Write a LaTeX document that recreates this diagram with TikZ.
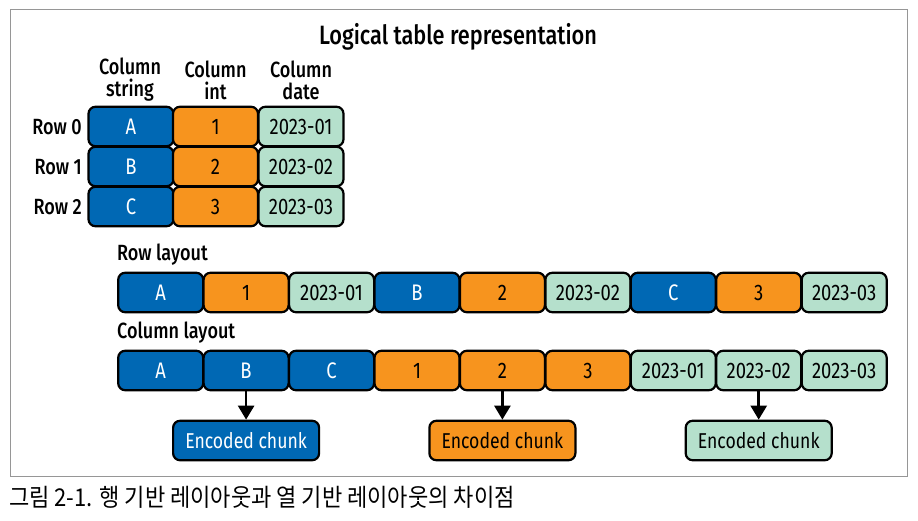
\documentclass[tikz,border=0pt]{standalone}
\usepackage{fontspec}
\setmainfont{Fira Sans}[FakeStretch=0.82, BoldFont={Fira Sans Medium}]
\newfontfamily\krfont{Noto Sans CJK KR}[FakeStretch=0.9]
\usepackage{tikz}
\usetikzlibrary{arrows.meta}

\definecolor{strblue}{RGB}{0,104,180}
\definecolor{intorange}{RGB}{247,148,30}
\definecolor{datemint}{RGB}{181,224,204}
\definecolor{framegray}{RGB}{150,150,150}

\tikzset{
    cell/.style={draw=black, line width=2.2pt, rounded corners=7pt,
        minimum width=85pt, minimum height=39.5pt, inner sep=0pt,
        font=\fontsize{22.5}{24}\selectfont},
    strcell/.style={cell, fill=strblue, text=white},
    intcell/.style={cell, fill=intorange, text=black},
    datecell/.style={cell, fill=datemint, text=black},
    chunk/.style={minimum width=146pt, font=\fontsize{21.5}{24}\selectfont},
    label/.style={font=\fontsize{22}{22}\selectfont\bfseries, inner sep=0pt},
    down/.style={line width=2.6pt, -{Triangle[width=16pt,length=14pt]}}
}

\begin{document}
\begin{tikzpicture}[x=1pt,y=-1pt]
\useasboundingbox (0,0) rectangle (918,521);
\draw[framegray, line width=1pt] (10,10) rectangle (907,476);

\node[font=\fontsize{26.5}{30}\selectfont\bfseries] (title) at (458,37)
    {Logical table representation};

% column heads
\node[label, align=center] (hstr) at (130,80) {Column\\string};
\node[label, align=center] (hint) at (215.5,80) {Column\\int};
\node[label, align=center] (hdate) at (301,80) {Column\\date};

% row heads
\node[label, anchor=east] (row0) at (82,127) {Row 0};
\node[label, anchor=east] (row1) at (82,167) {Row 1};
\node[label, anchor=east] (row2) at (82,207) {Row 2};

% logical table
\node[strcell] (str0) at (131,126.5) {A};
\node[intcell] (int0) at (215.5,126.5) {1};
\node[datecell] (date0) at (301,126.5) {2023-01};
\node[strcell] (str1) at (131,166.5) {B};
\node[intcell] (int1) at (215.5,166.5) {2};
\node[datecell] (date1) at (301,166.5) {2023-02};
\node[strcell] (str2) at (131,206.5) {C};
\node[intcell] (int2) at (215.5,206.5) {3};
\node[datecell] (date2) at (301,206.5) {2023-03};

% row layout
\node[label, anchor=west] (rowlay) at (117,255) {Row layout};
\node[strcell] (r1) at (160.7,292.5) {A};
\node[intcell] (r2) at (246.1,292.5) {1};
\node[datecell] (r3) at (331.6,292.5) {2023-01};
\node[strcell] (r4) at (417,292.5) {B};
\node[intcell] (r5) at (502.4,292.5) {2};
\node[datecell] (r6) at (587.9,292.5) {2023-02};
\node[strcell] (r7) at (673.3,292.5) {C};
\node[intcell] (r8) at (758.7,292.5) {3};
\node[datecell] (r9) at (844.2,292.5) {2023-03};

% column layout
\node[label, anchor=west] (collay) at (117,333) {Column layout};
\node[strcell] (c1) at (160.7,370.5) {A};
\node[strcell] (c2) at (246.1,370.5) {B};
\node[strcell] (c3) at (331.6,370.5) {C};
\node[intcell] (c4) at (417,370.5) {1};
\node[intcell] (c5) at (502.4,370.5) {2};
\node[intcell] (c6) at (587.9,370.5) {3};
\node[datecell] (c7) at (673.3,370.5) {2023-01};
\node[datecell] (c8) at (758.7,370.5) {2023-02};
\node[datecell] (c9) at (844.2,370.5) {2023-03};

% encoded chunks
\node[strcell, chunk] (encstr) at (246.1,440.5) {Encoded chunk};
\node[intcell, chunk] (encint) at (502.4,440.5) {Encoded chunk};
\node[datecell, chunk] (encdate) at (758.7,440.5) {Encoded chunk};

\draw[down] (c2) -- (encstr);
\draw[down] (c5) -- (encint);
\draw[down] (c8) -- (encdate);

\node[anchor=west, inner sep=0pt, font=\krfont\fontsize{24.5}{26}\selectfont] (caption)
    at (9,497) {그림 2-1. 행 기반 레이아웃과 열 기반 레이아웃의 차이점};
\end{tikzpicture}
\end{document}
